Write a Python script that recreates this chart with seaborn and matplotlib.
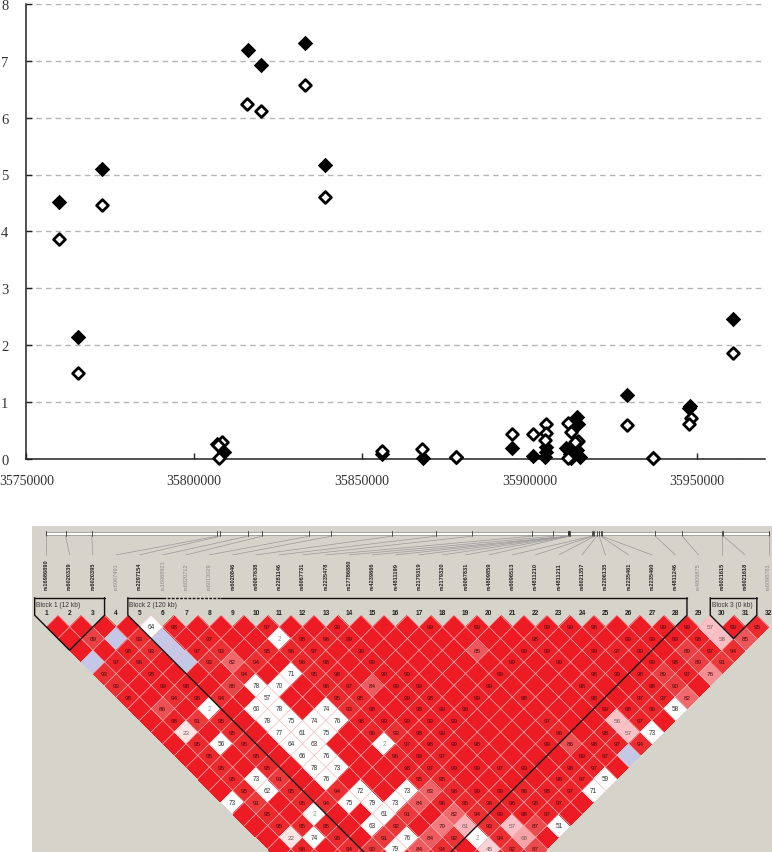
import matplotlib
matplotlib.use('Agg')
import matplotlib.pyplot as plt
from matplotlib.colors import LinearSegmentedColormap
from matplotlib.transforms import Affine2D
import numpy as np
import pandas as pd
import seaborn as sns

# top panel: -log10 p against position, one list per series
FILLED_POS = [35759720, 35765390, 35772540, 35816080, 35819960, 35833080, 35839040,
              35808900, 35806800, 35856040, 35868200, 35878100, 35894900, 35901100,
              35905100, 35905100, 35904600, 35914100, 35914500, 35911000, 35914100,
              35912100, 35915100, 35912400, 35929200, 35936800, 35947900, 35947600,
              35960600]
FILLED_LOG = [4.52, 2.14, 5.10, 7.19, 6.92, 7.31, 5.17,
              0.12, 0.26, 0.09, 0.01, 0.04, 0.19, 0.06,
              0.21, 0.12, 0.04, 0.73, 0.61, 0.19, 0.15,
              0.09, 0.03, 0.02, 1.13, 0.01, 0.93, 0.89,
              2.46]
OPEN_POS = [35759720, 35765390, 35772540, 35815800, 35819960, 35833080, 35839040,
            35808300, 35807100, 35807400, 35856040, 35868000, 35878100, 35894900,
            35901000, 35905000, 35905100, 35904600, 35911400, 35912400, 35914400,
            35913700, 35911400, 35929200, 35936800, 35948100, 35947500, 35960600]
OPEN_LOG = [3.87, 1.51, 4.46, 6.24, 6.11, 6.57, 4.60,
            0.29, 0.25, 0.01, 0.135, 0.175, 0.04, 0.44,
            0.44, 0.61, 0.46, 0.34, 0.63, 0.48, 0.32,
            0.30, 0.02, 0.60, 0.01, 0.715, 0.62, 1.86]
X_TICKS = [35750000, 35800000, 35850000, 35900000, 35950000]
Y_TICKS = [0, 1, 2, 3, 4, 5, 6, 7, 8]

# bottom panel: LD plot
SNP_NAMES = ['rs16986890', 'rs6020339', 'rs6020395', 'rs6067491', 'rs2297154', 'rs16988921',
             'rs6020712', 'rs6013029', 'rs6020846', 'rs6067638', 'rs2281146', 'rs6067731',
             'rs2235478', 'rs17786880', 'rs4239666', 'rs4811199', 'rs2179319', 'rs2179320',
             'rs6067831', 'rs4809859', 'rs6096513', 'rs4811210', 'rs4811211', 'rs6021357',
             'rs2206135', 'rs2235461', 'rs2235460', 'rs4811246', 'rs4809875', 'rs6021615',
             'rs6021618', 'rs6098781']
GREY_SNPS = [4, 6, 7, 8, 29, 32]
# where each snp sits on the strip, in marker units
TRACK_POS = [1.00, 1.83, 2.95, 8.34, 8.47, 9.64, 10.27, 12.29, 13.23, 15.84, 17.73, 19.29,
             21.83, 22.77, 23.39, 23.40, 23.42, 23.43, 23.45, 23.46, 24.42, 24.45, 24.53,
             24.62, 24.73, 24.80, 24.84, 27.14, 28.30, 30.00, 30.06, 32.00]

# cells not listed are D' = 100 (plain red, no number)
RED_CELLS = [
    (6, 7, 98), (10, 11, 97), (13, 14, 99), (17, 18, 99), (19, 20, 99), (22, 23, 99), (23, 24, 99),
    (24, 25, 98), (27, 28, 99), (28, 29, 99), (29, 30, 57), (30, 31, 99), (31, 32, 95),
    (2, 4, 89), (4, 6, 93), (7, 9, 97), (11, 13, 98), (12, 14, 96), (13, 15, 99), (21, 23, 98),
    (25, 27, 99), (26, 28, 99), (27, 29, 99), (28, 30, 98), (29, 31, 58), (30, 32, 85),
    (3, 6, 98), (4, 7, 93), (6, 9, 97), (7, 10, 93), (9, 12, 95), (10, 13, 96), (11, 14, 97),
    (13, 16, 99), (18, 21, 85), (20, 23, 99), (21, 24, 99), (23, 26, 99), (24, 27, 97),
    (25, 28, 99), (27, 30, 89), (28, 31, 97), (29, 32, 94),
    (2, 6, 97), (3, 7, 96), (6, 10, 93), (7, 11, 82), (8, 12, 94), (10, 14, 96), (11, 15, 98),
    (13, 17, 99), (19, 23, 99), (21, 25, 99), (25, 29, 99), (26, 30, 98), (27, 31, 89), (28, 32, 91),
    (1, 6, 93), (3, 8, 98), (7, 12, 94), (10, 15, 95), (11, 16, 98), (13, 18, 99), (14, 19, 99),
    (18, 23, 99), (22, 27, 98), (23, 28, 99), (24, 29, 98), (25, 30, 89), (26, 31, 97), (27, 32, 76),
    (1, 7, 93), (3, 9, 99), (4, 10, 98), (6, 12, 88), (10, 16, 96), (11, 17, 97), (12, 18, 84),
    (13, 19, 99), (14, 20, 99), (17, 23, 99), (21, 27, 98), (24, 30, 98), (25, 31, 90),
    (1, 8, 98), (3, 10, 94), (4, 11, 98), (5, 12, 94), (10, 17, 95), (11, 18, 95), (13, 20, 99),
    (14, 21, 98), (16, 23, 99), (18, 25, 98), (21, 28, 98), (23, 30, 97), (24, 31, 97), (25, 32, 82),
    (2, 10, 86), (10, 18, 93), (11, 19, 98), (13, 21, 98), (14, 22, 99), (15, 23, 99), (21, 29, 99),
    (22, 30, 98), (23, 31, 96),
    (2, 11, 98), (3, 12, 91), (4, 13, 95), (10, 19, 98), (11, 20, 99), (12, 21, 99), (13, 22, 99),
    (14, 23, 99), (18, 27, 97), (21, 30, 56), (22, 31, 97),
    (2, 12, 23), (4, 14, 95), (10, 20, 96), (11, 21, 93), (12, 22, 98), (13, 23, 99), (18, 28, 96),
    (20, 30, 98), (21, 31, 57),
    (2, 13, 95), (4, 15, 95), (11, 22, 97), (12, 23, 98), (13, 24, 99), (14, 25, 98), (17, 28, 99),
    (18, 29, 86), (19, 30, 98), (20, 31, 97), (21, 32, 94),
    (2, 14, 95), (4, 16, 95), (10, 22, 96), (11, 23, 99), (12, 24, 97), (18, 30, 99), (19, 31, 97),
    (2, 15, 95), (4, 17, 95), (10, 23, 98), (11, 24, 97), (12, 25, 99), (13, 26, 99), (14, 27, 97),
    (15, 28, 99), (17, 30, 98), (18, 31, 97),
    (2, 16, 95), (4, 18, 91), (6, 21, 94), (10, 24, 95), (11, 25, 95), (16, 30, 98), (17, 31, 97),
    (2, 17, 95), (4, 19, 95), (10, 25, 83), (11, 26, 96), (12, 27, 99), (13, 28, 99), (14, 29, 96),
    (15, 30, 98), (16, 31, 97),
    (2, 18, 91), (4, 20, 95), (5, 21, 94), (9, 25, 84), (10, 26, 96), (11, 27, 95), (12, 28, 96),
    (13, 29, 98), (14, 30, 98), (15, 31, 97),
    (2, 19, 95), (8, 25, 91), (10, 27, 82), (11, 28, 94), (12, 29, 99), (13, 30, 98), (14, 31, 97),
    (2, 20, 95), (3, 21, 95), (4, 22, 95), (7, 25, 92), (9, 27, 79), (10, 28, 61), (11, 29, 93),
    (12, 30, 57), (13, 31, 87),
    (2, 21, 22), (4, 23, 95), (6, 25, 91), (8, 27, 84), (9, 28, 92), (11, 30, 94), (12, 31, 68),
    (2, 22, 96), (4, 24, 94), (5, 25, 90), (7, 27, 84), (8, 28, 94), (10, 30, 45), (11, 31, 92),
    (12, 32, 87),
]
WHITE_CELLS = [
    (5, 6, 64), (10, 12, 2), (9, 14, 71), (7, 13, 78), (8, 14, 70), (7, 14, 57), (4, 12, 2),
    (6, 14, 60), (7, 15, 78), (9, 17, 74), (24, 32, 58), (6, 15, 78), (7, 16, 75), (8, 17, 74),
    (9, 18, 76), (22, 32, 73), (6, 16, 77), (7, 17, 61), (8, 18, 75), (3, 14, 56), (6, 17, 64),
    (7, 18, 63), (10, 21, 2), (6, 18, 66), (7, 19, 76), (6, 19, 78), (7, 20, 73), (3, 17, 73),
    (6, 20, 76), (18, 32, 59), (3, 18, 62), (7, 22, 72), (9, 24, 73), (17, 32, 71), (1, 17, 73),
    (6, 22, 75), (7, 23, 79), (8, 24, 73), (4, 21, 2), (7, 24, 61), (6, 24, 63), (14, 32, 51),
    (3, 22, 74), (7, 26, 76), (10, 29, 2), (6, 26, 79),
]
BLUE_CELLS = [(1, 5), (3, 5), (5, 7), (5, 8), (5, 9), (20, 32)]
BLOCKS = [(1, 3, 'Block 1 (12 kb)'), (5, 28, 'Block 2 (120 kb)'), (30, 31, 'Block 3 (0 kb)')]

sns.set_theme(style='white')
plt.rcParams['font.family'] = ['Liberation Sans', 'DejaVu Sans']

fig = plt.figure(figsize=(7.72, 8.53), dpi=100)

# ---- association plot ----
ax = fig.add_axes([26.4 / 772, (853 - 460) / 853, (765 - 26.4) / 772, (460 - 4.8) / 853])
filled = pd.DataFrame({'pos': FILLED_POS, 'log': FILLED_LOG})
opened = pd.DataFrame({'pos': OPEN_POS, 'log': OPEN_LOG})
sns.scatterplot(data=filled, x='pos', y='log', marker='D', s=62, color='black',
                linewidth=0, ax=ax, zorder=3, clip_on=False)
sns.scatterplot(data=opened, x='pos', y='log', marker='D', s=36, facecolor='white',
                edgecolor='black', linewidth=2, ax=ax, zorder=4, clip_on=False)
ax.set_xlim(35750000, 35970280)
ax.set_ylim(0, 8)
ax.set_xticks(X_TICKS)
ax.set_yticks(Y_TICKS)
ax.set_xticklabels([str(v) for v in X_TICKS], family='Liberation Serif', fontsize=10, color='#333333')
ax.set_yticklabels([str(v) for v in Y_TICKS], family='Liberation Serif', fontsize=10.5, color='#333333')
ax.set_xlabel('')
ax.set_ylabel('')
ax.tick_params(axis='both', direction='in', length=4, width=1, color='#222222', left=True, bottom=True)
ax.tick_params(axis='y', pad=13)
ax.tick_params(axis='x', pad=11)
ax.yaxis.grid(True, color='#b5b5b5', linewidth=1, linestyle=(0, (4, 3)))
ax.set_axisbelow(True)
for side in ['top', 'right']:
    ax.spines[side].set_visible(False)
for side in ['left', 'bottom']:
    ax.spines[side].set_color('#222222')
    ax.spines[side].set_linewidth(1.1)

# ---- LD triangle ----
n = len(SNP_NAMES)
shade = np.full((n, n), 100.0)
for i, j, val in RED_CELLS:
    shade[i - 1, j - 1] = val
for i, j, val in WHITE_CELLS:
    shade[i - 1, j - 1] = 0
for i, j in BLUE_CELLS:
    shade[i - 1, j - 1] = -1
mask = np.tril(np.ones((n, n), dtype=bool))

cmap = LinearSegmentedColormap.from_list('dprime', [
    (0.0, '#ffffff'), (0.23, '#fbe4e4'), (0.45, '#fad3d6'), (0.57, '#f9c0c6'), (0.76, '#f58f92'),
    (0.82, '#f0686c'), (0.89, '#ea4043'), (0.95, '#ec2a2e'), (1.0, '#ed1c24')])
cmap.set_under('#c4c7e6')

ld = fig.add_axes([32 / 772, 0, 740 / 772, 326 / 853])
sns.heatmap(shade, mask=mask, cmap=cmap, vmin=0, vmax=100, cbar=False, linewidths=0, ax=ld)
# turn the matrix 45 degrees so it hangs under the markers
turn = Affine2D.from_values(0.5, 0.5, 0.5, -0.5, 0.5, 0)
ld.collections[0].set_transform(turn + ld.transData)
ld.set_facecolor('#d6d3cb')
ld.set_xlim(0.386, 32.15)
ld.set_ylim(10.13, -3.816)
ld.set_xticks([])
ld.set_yticks([])
for side in ld.spines.values():
    side.set_visible(False)

# thin cell borders, only inside the triangle
for k in range(1, n):
    a = k + 0.5
    ld.plot([a, (a + n + 0.5) / 2], [0, (n + 0.5 - a) / 2], color='#f7b7b9', linewidth=0.5)
    ld.plot([a, (a + 0.5) / 2], [0, (a - 0.5) / 2], color='#f7b7b9', linewidth=0.5)

for i, j, val in RED_CELLS:
    ld.text((i + j) / 2, (j - i) / 2, str(val), ha='center', va='center', fontsize=4.6,
            color='#4d0a0e' if val > 70 else '#7a5a5a', clip_on=True)
for i, j, val in WHITE_CELLS:
    ld.text((i + j) / 2, (j - i) / 2, str(val), ha='center', va='center', fontsize=4.7,
            color='#999999' if val < 10 else '#333333', clip_on=True)

# strip with snp positions and leader lines
ld.fill_between([TRACK_POS[0], TRACK_POS[-1]], -3.56, -3.43, color='white', linewidth=0.5, edgecolor='#888888')
for k, name in enumerate(SNP_NAMES, start=1):
    grey = k in GREY_SNPS
    ld.plot([TRACK_POS[k - 1]] * 2, [-3.6, -3.38], color='#333333', linewidth=0.6)
    ld.plot([TRACK_POS[k - 1], k], [-3.38, -2.58], color='#999999', linewidth=0.5)
    ld.text(k, -1.14, name, rotation=90, ha='center', va='bottom', fontsize=4.1,
            fontweight='normal' if grey else 'bold', color='#8a8a8a' if grey else '#222222')
    ld.text(k, -0.12, str(k), ha='center', va='center', fontsize=4.8, fontweight='bold', color='#222222')

# haplotype block outlines
for a, b, label in BLOCKS:
    apex = (b - a + 1) / 2
    ld.plot([a - 0.5, a - 0.5, (a + b) / 2, b + 0.5, b + 0.5],
            [-0.75, 0, apex, 0, -0.75], color='#111111', linewidth=1)
    if a == 5:
        ld.plot([a - 0.5, 6.0], [-0.75, -0.75], color='#111111', linewidth=1)
        ld.plot([6.0, 8.5], [-0.75, -0.75], color='#111111', linewidth=1, linestyle=(0, (2, 1)))
        ld.plot([8.5, b + 0.5], [-0.75, -0.75], color='#111111', linewidth=1)
    else:
        ld.plot([a - 0.5, b + 0.5], [-0.75, -0.75], color='#111111', linewidth=1)
    ld.text(a - 0.44, -0.47, label, ha='left', va='center', fontsize=4.8, color='#333333')

fig.savefig('out.png', dpi=100)
